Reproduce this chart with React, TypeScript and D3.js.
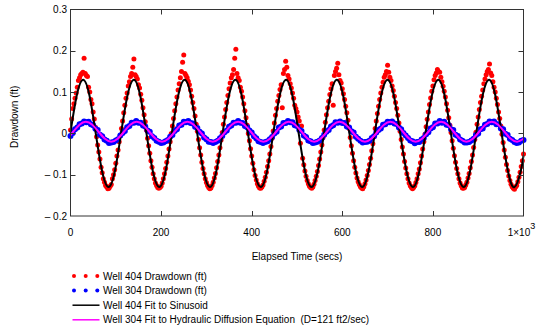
import React, { useRef, useEffect } from 'react';
import * as d3 from 'd3';

// well 404 logger: one reading every 2.5 secs; well 304 logger: every 5 secs
const STEP_404 = 2.5;
const STEP_304 = 5;

// Well 404 drawdown (ft)
const well404Drawdown = [
  0.008, 0.035, 0.060, 0.072, 0.085, 0.098, 0.112, 0.128, 0.135, 0.142,
  0.145, 0.148, 0.182, 0.145, 0.140, 0.138, 0.112, 0.100, 0.082, 0.072,
  0.052, 0.035, 0.015, -0.008, -0.028, -0.045, -0.062, -0.082, -0.095, -0.110,
  -0.118, -0.126, -0.130, -0.134, -0.133, -0.128, -0.124, -0.110, -0.100, -0.088,
  -0.072, -0.055, -0.040, -0.020, -0.005, 0.012, 0.030, 0.050, 0.068, 0.085,
  0.098, 0.115, 0.125, 0.138, 0.145, 0.160, 0.180, 0.142, 0.138, 0.132,
  0.118, 0.110, 0.095, 0.080, 0.062, 0.045, 0.028, 0.008, -0.012, -0.030,
  -0.048, -0.066, -0.082, -0.098, -0.110, -0.120, -0.126, -0.131, -0.133, -0.131,
  -0.128, -0.120, -0.110, -0.098, -0.085, -0.070, -0.055, -0.038, -0.020, 0.000,
  0.018, 0.036, 0.055, 0.072, 0.088, 0.105, 0.120, 0.135, 0.150, 0.172,
  0.190, 0.145, 0.140, 0.135, 0.126, 0.118, 0.105, 0.090, 0.075, 0.060,
  0.042, 0.022, 0.005, -0.015, -0.035, -0.052, -0.070, -0.085, -0.098, -0.110,
  -0.119, -0.126, -0.131, -0.134, -0.132, -0.126, -0.118, -0.108, -0.097, -0.083,
  -0.068, -0.052, -0.035, -0.016, 0.002, 0.022, 0.040, 0.058, 0.075, 0.092,
  0.108, 0.122, 0.135, 0.142, 0.155, 0.182, 0.204, 0.145, 0.135, 0.128,
  0.112, 0.102, 0.088, 0.072, 0.055, 0.038, 0.020, 0.000, -0.018, -0.037,
  -0.055, -0.072, -0.088, -0.102, -0.113, -0.122, -0.128, -0.132, -0.133, -0.130,
  -0.125, -0.116, -0.106, -0.094, -0.080, -0.066, -0.050, -0.032, -0.012, 0.006,
  0.025, 0.044, 0.060, 0.078, 0.092, 0.106, 0.118, 0.062, 0.145, 0.155,
  0.175, 0.160, 0.140, 0.132, 0.120, 0.110, 0.098, 0.085, 0.068, 0.060,
  0.052, 0.040, 0.030, -0.024, 0.018, -0.060, -0.076, -0.091, -0.104, -0.114,
  -0.122, -0.128, -0.131, -0.133, -0.130, -0.123, -0.114, -0.104, -0.092, -0.078,
  -0.062, -0.045, -0.028, -0.010, 0.008, 0.027, 0.045, 0.062, 0.078, 0.094,
  0.108, 0.120, 0.068, 0.140, 0.150, 0.158, 0.170, 0.142, 0.128, 0.122,
  0.108, 0.096, 0.082, 0.066, 0.050, 0.032, 0.012, -0.010, -0.030, -0.048,
  -0.066, -0.082, -0.096, -0.108, -0.117, -0.124, -0.129, -0.132, -0.134, -0.129,
  -0.122, -0.113, -0.102, -0.090, -0.075, -0.060, -0.042, -0.025, -0.008, 0.012,
  0.030, 0.048, 0.066, 0.082, 0.098, 0.112, 0.124, 0.136, 0.142, 0.150,
  0.165, 0.148, 0.136, 0.128, 0.115, 0.104, 0.090, 0.075, 0.060, 0.044,
  0.025, 0.005, -0.015, -0.033, -0.050, -0.068, -0.084, -0.098, -0.110, -0.120,
  -0.127, -0.131, -0.134, -0.131, -0.127, -0.119, -0.110, -0.098, -0.086, -0.071,
  -0.055, -0.038, -0.020, -0.002, 0.016, 0.034, 0.052, 0.070, 0.086, 0.102,
  0.115, 0.130, 0.140, 0.146, 0.155, 0.150, 0.148, 0.136, 0.125, 0.114,
  0.102, 0.088, 0.072, 0.056, 0.038, 0.020, 0.002, -0.018, -0.036, -0.054,
  -0.070, -0.085, -0.098, -0.110, -0.120, -0.127, -0.132, -0.133, -0.131, -0.125,
  -0.118, -0.108, -0.097, -0.083, -0.068, -0.052, -0.034, -0.015, 0.003, 0.022,
  0.040, 0.058, 0.075, 0.090, 0.105, 0.120, 0.132, 0.142, 0.150, 0.155,
  0.168, 0.146, 0.140, 0.125, 0.112, 0.100, 0.085, 0.070, 0.052, 0.036,
  0.018, -0.002, -0.022, -0.040, -0.058, -0.075, -0.090, -0.103, -0.114, -0.123,
  -0.129, -0.133, -0.135, -0.130, -0.126, -0.117, -0.106, -0.094, -0.080, -0.066,
  -0.050,
];

// Well 304 drawdown (ft)
const well304Drawdown = [
  -0.006, 0.001, 0.010, 0.014, 0.022, 0.024, 0.029, 0.027, 0.028, 0.022, 0.020, 0.011,
  0.008, -0.003, -0.007, -0.015, -0.018, -0.023, -0.022, -0.021, -0.017, -0.014, -0.005,
  0.001, 0.006, 0.015, 0.018, 0.026, 0.026, 0.030, 0.026, 0.026, 0.019, 0.017, 0.007,
  0.004, -0.007, -0.011, -0.018, -0.020, -0.023, -0.022, -0.019, -0.016, -0.008, -0.004,
  0.006, 0.010, 0.019, 0.021, 0.028, 0.027, 0.030, 0.025, 0.024, 0.016, 0.013, 0.004,
  0.000, -0.010, -0.014, -0.020, -0.021, -0.023, -0.021, -0.018, -0.012, -0.006,
  0.003, 0.007, 0.016, 0.019, 0.026, 0.026, 0.030, 0.026, 0.025, 0.018, 0.015, 0.007,
  0.002, -0.007, -0.012, -0.019, -0.021, -0.023, -0.021, -0.019, -0.014, -0.009, 0.000,
  0.004, 0.014, 0.017, 0.025, 0.025, 0.030, 0.027, 0.027, 0.020, 0.018, 0.009,
  0.006, -0.005, -0.009, -0.017, -0.019, -0.023, -0.022, -0.020, -0.017, -0.011,
  -0.003, 0.004, 0.008, 0.017, 0.020, 0.027, 0.026, 0.029, 0.025, 0.025, 0.017, 0.014,
  0.005, 0.002, -0.008, -0.013, -0.018, -0.022, -0.021, -0.020, -0.018, -0.011, -0.007,
  0.002, 0.008, 0.012, 0.021, 0.022, 0.028, 0.027, 0.029, 0.024, 0.023, 0.014, 0.010,
  0.001, -0.005, -0.011, -0.017, -0.019, -0.024, -0.021, -0.021, -0.015, -0.011, -0.002,
  0.003, 0.012, 0.015, 0.024, 0.024, 0.030, 0.026, 0.028, 0.021, 0.020, 0.010,
  0.008, -0.003, -0.006, -0.015, -0.018, -0.022, -0.022, -0.021, -0.017, -0.013, -0.004,
  0.000, 0.010, 0.012, 0.021, 0.023, 0.029, 0.027, 0.029, 0.022, 0.022, 0.012,
  0.010, -0.001, -0.004, -0.013, -0.016, -0.021, -0.023, -0.022, -0.018, -0.016,
];

// sinusoid fit to well 404 (secs, ft)
const fit404Times = [
  0, 14, 28, 42, 56, 70, 84, 98, 112, 126, 140, 154, 168, 182, 196, 210, 224, 238,
  252, 266, 280, 294, 308, 322, 336, 350, 364, 378, 392, 406, 420, 434, 448, 462,
  476, 490, 504, 518, 532, 546, 560, 574, 588, 602, 616, 630, 644, 658, 672, 686,
  700, 714, 728, 742, 756, 770, 784, 798, 812, 826, 840, 854, 868, 882, 896, 910,
  924, 938, 952, 966, 980, 994, 1000,
];
const fit404 = [
  0.003, 0.093, 0.130, 0.091, -0.002, -0.093, -0.130, -0.091,
  0.003, 0.093, 0.130, 0.091, -0.002, -0.093, -0.130, -0.091,
  0.003, 0.093, 0.130, 0.091, -0.002, -0.093, -0.130, -0.091,
  0.003, 0.093, 0.130, 0.091, -0.002, -0.093, -0.130, -0.091,
  0.003, 0.093, 0.130, 0.091, -0.002, -0.093, -0.130, -0.091,
  0.003, 0.093, 0.130, 0.091, -0.002, -0.093, -0.130, -0.091,
  0.003, 0.093, 0.130, 0.091, -0.002, -0.093, -0.130, -0.091,
  0.003, 0.093, 0.130, 0.091, -0.002, -0.093, -0.130, -0.091,
  0.003, 0.093, 0.130, 0.091, -0.002, -0.093, -0.130, -0.091,
  -0.054,
];

// hydraulic diffusion fit to well 304 (secs, ft)
const fit304Times = [
  0, 6, 20, 34, 48, 62, 76, 90, 104, 118, 132, 146, 160, 174, 188, 202, 216, 230,
  244, 258, 272, 286, 300, 314, 328, 342, 356, 370, 384, 398, 412, 426, 440, 454,
  468, 482, 496, 510, 524, 538, 552, 566, 580, 594, 608, 622, 636, 650, 664, 678,
  692, 706, 720, 734, 748, 762, 776, 790, 804, 818, 832, 846, 860, 874, 888, 902,
  916, 930, 944, 958, 972, 986, 1000,
];
const fit304 = [
  -0.004,
  0.004, 0.021, 0.028, 0.021, 0.004, -0.013, -0.020, -0.013,
  0.004, 0.021, 0.028, 0.021, 0.004, -0.013, -0.020, -0.013,
  0.004, 0.021, 0.028, 0.021, 0.004, -0.013, -0.020, -0.013,
  0.004, 0.021, 0.028, 0.021, 0.004, -0.013, -0.020, -0.013,
  0.004, 0.021, 0.028, 0.021, 0.004, -0.013, -0.020, -0.013,
  0.004, 0.021, 0.028, 0.021, 0.004, -0.013, -0.020, -0.013,
  0.004, 0.021, 0.028, 0.021, 0.004, -0.013, -0.020, -0.013,
  0.004, 0.021, 0.028, 0.021, 0.004, -0.013, -0.020, -0.013,
  0.004, 0.021, 0.028, 0.021, 0.004, -0.013, -0.020,
  -0.013,
];

const xTicks = [0, 200, 400, 600, 800, 1000];
const yTicks = [0.3, 0.2, 0.1, 0, -0.1, -0.2];
const legendLabels = [
  'Well 404 Drawdown (ft)',
  'Well 304 Drawdown (ft)',
  'Well 404 Fit to Sinusoid',
  'Well 304 Fit to Hydraulic Diffusion Equation  (D=121 ft2/sec)',
];

const W = 540;
const H = 328;
const FONT = '"Liberation Sans", Arial, sans-serif';
const AXIS = '#333';

export default function App() {
  const svgRef = useRef<SVGSVGElement>(null);

  useEffect(() => {
    const svg = d3.select(svgRef.current);
    svg.selectAll('*').remove();

    const left = 70.5, right = 523.5, top = 9.5, bottom = 216;
    const x = d3.scaleLinear().domain([0, 1000]).range([left, right]);
    const y = d3.scaleLinear().domain([-0.2, 0.3]).range([bottom, top]);

    svg.append('rect').attr('width', W).attr('height', H).attr('fill', '#fff');

    // Measured points
    const red = well404Drawdown.map((v, i) => [i * STEP_404, v]);
    const blue = well304Drawdown.map((v, i) => [i * STEP_304, v]);

    svg.append('g').selectAll('circle').data(red).join('circle')
      .attr('cx', d => x(d[0])).attr('cy', d => y(d[1]))
      .attr('r', 2.5).attr('fill', '#ff0000');

    svg.append('g').selectAll('circle').data(blue).join('circle')
      .attr('cx', d => x(d[0])).attr('cy', d => y(d[1]))
      .attr('r', 3).attr('fill', '#0000ff');

    // Fitted curves
    const line = d3.line<[number, number]>()
      .x(d => x(d[0])).y(d => y(d[1]))
      .curve(d3.curveNatural);

    svg.append('path')
      .datum(fit404Times.map((t, i) => [t, fit404[i]] as [number, number]))
      .attr('d', line).attr('fill', 'none')
      .attr('stroke', '#000').attr('stroke-width', 2);

    svg.append('path')
      .datum(fit304Times.map((t, i) => [t, fit304[i]] as [number, number]))
      .attr('d', line).attr('fill', 'none')
      .attr('stroke', '#ff00ff').attr('stroke-width', 2);

    // Box + inward ticks on all sides
    svg.append('rect')
      .attr('x', left).attr('y', top)
      .attr('width', right - left).attr('height', bottom - top)
      .attr('fill', 'none').attr('stroke', AXIS).attr('stroke-width', 1);

    const tl = 5;
    xTicks.slice(1, -1).forEach(t => {
      const px = Math.round(x(t)) + 0.5;
      svg.append('line').attr('x1', px).attr('x2', px).attr('y1', bottom).attr('y2', bottom - tl).attr('stroke', AXIS);
      svg.append('line').attr('x1', px).attr('x2', px).attr('y1', top).attr('y2', top + tl).attr('stroke', AXIS);
    });
    yTicks.slice(1, -1).forEach(t => {
      const py = Math.round(y(t)) + 0.5;
      svg.append('line').attr('x1', left).attr('x2', left + tl).attr('y1', py).attr('y2', py).attr('stroke', AXIS);
      svg.append('line').attr('x1', right).attr('x2', right - tl).attr('y1', py).attr('y2', py).attr('stroke', AXIS);
    });

    const txt = (g: any) => g.attr('font-family', FONT).attr('font-size', 10).attr('fill', '#000');

    // Y tick labels
    yTicks.forEach(t => {
      const label = t < 0 ? `\u2013 ${Math.abs(t).toFixed(1)}` : t === 0 ? '0' : t.toFixed(1);
      svg.append('text').call(txt)
        .attr('x', left - 3.5).attr('y', y(t)).attr('dy', '0.35em')
        .attr('text-anchor', 'end').text(label);
    });

    // X tick labels
    xTicks.forEach(t => {
      const el = svg.append('text').call(txt)
        .attr('x', x(t)).attr('y', 236).attr('text-anchor', 'middle');
      if (t === 1000) {
        el.attr('x', x(t) - 2);
        el.append('tspan').text('1\u00d710');
        el.append('tspan').attr('dy', -7).attr('font-size', 9).text('3');
      } else {
        el.text(String(t));
      }
    });

    // Axis titles
    svg.append('text').call(txt)
      .attr('x', (left + right) / 2).attr('y', 260)
      .attr('text-anchor', 'middle').text('Elapsed Time (secs)');
    svg.append('text').call(txt)
      .attr('transform', `translate(17.5, ${(top + bottom) / 2 + 4}) rotate(-90)`)
      .attr('text-anchor', 'middle').text('Drawdown (ft)');

    // Legend
    const rowY = (i: number) => 276 + i * 14.6;
    const lg = svg.append('g');
    [74, 85.7, 97.3].forEach(cx => {
      lg.append('circle').attr('cx', cx).attr('cy', rowY(0)).attr('r', 2).attr('fill', '#ff0000');
      lg.append('circle').attr('cx', cx).attr('cy', rowY(1)).attr('r', 2).attr('fill', '#0000ff');
    });
    lg.append('line').attr('x1', 72.5).attr('x2', 99.5).attr('y1', rowY(2)).attr('y2', rowY(2))
      .attr('stroke', '#000').attr('stroke-width', 1.5);
    lg.append('line').attr('x1', 72.5).attr('x2', 99.5).attr('y1', rowY(3)).attr('y2', rowY(3))
      .attr('stroke', '#ff00ff').attr('stroke-width', 1.5);
    legendLabels.forEach((label, i) => {
      lg.append('text').call(txt)
        .attr('x', 103).attr('y', rowY(i)).attr('dy', '0.35em')
        .style('white-space', 'pre').text(label);
    });
  }, []);

  return (
    <svg
      ref={svgRef}
      width={W}
      height={H}
      style={{ position: 'absolute', left: 0, top: 0, display: 'block' }}
    />
  );
}
